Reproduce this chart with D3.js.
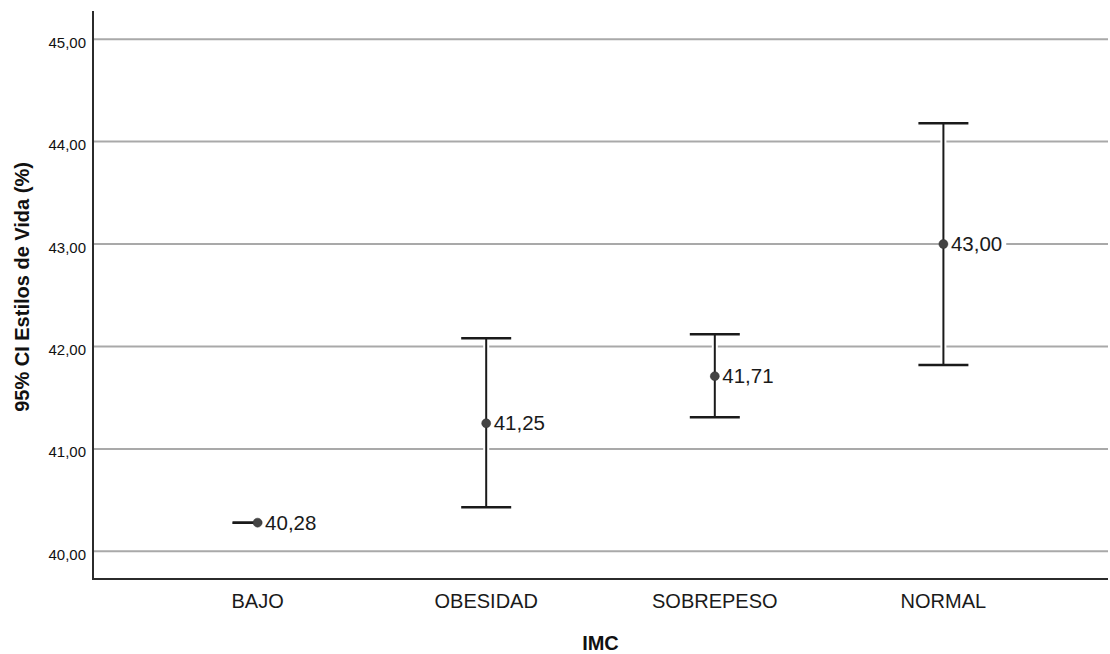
<!DOCTYPE html>
<html>
<head>
<meta charset="utf-8">
<script src="https://cdn.jsdelivr.net/npm/d3@7/dist/d3.min.js"></script>
<style>
  html, body { margin: 0; padding: 0; background: #fff; }
  svg { display: block; font-family: "Liberation Sans", Arial, sans-serif; }
</style>
</head>
<body>
<svg id="chart" width="1110" height="654"></svg>
<script>
// IMC groups with mean and 95% confidence interval of "Estilos de Vida"
const categories = ["BAJO", "OBESIDAD", "SOBREPESO", "NORMAL"];
const means = [40.28, 41.25, 41.71, 43.00];
const lowerCI = [40.28, 40.43, 41.31, 41.82];
const upperCI = [40.28, 42.08, 42.12, 44.18];
const yTicks = [40, 41, 42, 43, 44, 45];

const plotLeft = 93, plotRight = 1108, plotTop = 11, plotBottom = 579;

const svg = d3.select("#chart");

const esLocale = d3.formatLocale({ decimal: ",", thousands: ".", grouping: [3], currency: ["", "€"] });
const fmt = esLocale.format(".2f");

const x = d3.scalePoint().domain(categories).range([plotLeft, plotRight]).padding(0.72);
const y = d3.scaleLinear().domain([39.73, 45.275]).range([plotBottom, plotTop]);

const rows = categories.map((c, i) => ({ cat: c, mean: means[i], lo: lowerCI[i], hi: upperCI[i] }));

// horizontal gridlines
svg.append("g").selectAll("line").data(yTicks).join("line")
  .attr("x1", plotLeft).attr("x2", plotRight)
  .attr("y1", d => y(d)).attr("y2", d => y(d))
  .attr("stroke", "#a9a9a9").attr("stroke-width", 2);

// y axis tick labels
svg.append("g").selectAll("text").data(yTicks).join("text")
  .attr("x", plotLeft - 7).attr("y", d => y(d) + 8.5)
  .attr("text-anchor", "end")
  .attr("font-size", 15).attr("fill", "#111")
  .text(d => fmt(d));

// axis lines
svg.append("line").attr("x1", plotLeft).attr("x2", plotLeft).attr("y1", plotTop).attr("y2", plotBottom)
  .attr("stroke", "#2b2b2b").attr("stroke-width", 2);
svg.append("line").attr("x1", plotLeft - 1).attr("x2", plotRight).attr("y1", plotBottom).attr("y2", plotBottom)
  .attr("stroke", "#2b2b2b").attr("stroke-width", 2);

// category labels
svg.append("g").selectAll("text").data(categories).join("text")
  .attr("x", d => x(d)).attr("y", 608)
  .attr("text-anchor", "middle")
  .attr("font-size", 20).attr("fill", "#1a1a1a")
  .text(d => d);

// error bars
const bars = svg.append("g").selectAll("g").data(rows).join("g");
const capHalf = 25;

// white halo behind whisker so gridlines break around it
bars.append("line")
  .attr("x1", d => x(d.cat)).attr("x2", d => x(d.cat))
  .attr("y1", d => y(d.hi)).attr("y2", d => y(d.lo))
  .attr("stroke", "#fff").attr("stroke-width", 6);
bars.append("line")
  .attr("x1", d => x(d.cat)).attr("x2", d => x(d.cat))
  .attr("y1", d => y(d.hi)).attr("y2", d => y(d.lo))
  .attr("stroke", "#1a1a1a").attr("stroke-width", 2);
bars.append("line")
  .attr("x1", d => x(d.cat) - capHalf).attr("x2", d => x(d.cat) + capHalf)
  .attr("y1", d => y(d.hi)).attr("y2", d => y(d.hi))
  .attr("stroke", "#1a1a1a").attr("stroke-width", 2.5);
bars.append("line")
  .attr("x1", d => x(d.cat) - capHalf).attr("x2", d => x(d.cat) + capHalf)
  .attr("y1", d => y(d.lo)).attr("y2", d => y(d.lo))
  .attr("stroke", "#1a1a1a").attr("stroke-width", 2.5);

// value labels with white backing
const labels = bars.append("g");
labels.append("text")
  .attr("class", "val")
  .attr("x", d => x(d.cat) + 7.5).attr("y", d => y(d.mean) + 7)
  .attr("font-size", 20.5).attr("fill", "#1a1a1a")
  .text(d => fmt(d.mean));
labels.each(function () {
  const g = d3.select(this);
  const bb = g.select("text").node().getBBox();
  g.insert("rect", "text")
    .attr("x", bb.x - 3).attr("y", bb.y - 1)
    .attr("width", bb.width + 7).attr("height", bb.height + 2)
    .attr("fill", "#fff");
});

// mean markers
bars.append("circle")
  .attr("cx", d => x(d.cat)).attr("cy", d => y(d.mean))
  .attr("r", 4.5).attr("fill", "#444").attr("stroke", "#333").attr("stroke-width", 0.5);

// axis titles
svg.append("text")
  .attr("x", (plotLeft + plotRight) / 2).attr("y", 650)
  .attr("text-anchor", "middle")
  .attr("font-size", 20).attr("font-weight", "bold").attr("fill", "#111")
  .text("IMC");

svg.append("text")
  .attr("transform", "translate(29, 287) rotate(-90)")
  .attr("text-anchor", "middle")
  .attr("font-size", 20).attr("font-weight", "bold").attr("fill", "#111")
  .text("95% CI Estilos de Vida (%)");
</script>
</body>
</html>
